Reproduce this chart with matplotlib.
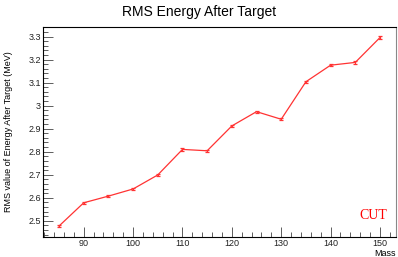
import numpy as np
import matplotlib
matplotlib.use("Agg")
import matplotlib.pyplot as plt
from matplotlib.ticker import MultipleLocator

# data
mass = [85, 90, 95, 100, 105, 110, 115, 120, 125, 130, 135, 140, 145, 150]
rms = [2.477, 2.578, 2.607, 2.638, 2.699, 2.810, 2.804, 2.912, 2.974,
       2.941, 3.104, 3.176, 3.188, 3.296]
rms_err = [0.005] * len(mass)

plt.rcParams['font.family'] = ['Liberation Sans', 'DejaVu Sans']

fig = plt.figure(figsize=(3.98, 2.57), dpi=100)
ax = fig.add_axes([0.108, 0.078, 0.887, 0.817])

ax.errorbar(mass, rms, yerr=rms_err, color='#ff3333', lw=0.9,
            elinewidth=0.9, capsize=1.2, capthick=0.9)

ax.set_xlim(81.75, 153.25)
ax.set_ylim(2.4295, 3.342)
ax.xaxis.set_major_locator(MultipleLocator(10))
ax.xaxis.set_minor_locator(MultipleLocator(2))
ax.yaxis.set_major_locator(MultipleLocator(0.1))
ax.yaxis.set_minor_locator(MultipleLocator(0.02))
ax.yaxis.set_major_formatter(matplotlib.ticker.FuncFormatter(lambda v, p: '%g' % round(v, 2)))

ax.tick_params(which='both', direction='in', top=False, right=False,
               labelsize=6.5, pad=1.5, width=0.6, color='#444444', labelcolor='#222222')
ax.tick_params(which='major', length=7)
ax.tick_params(which='minor', length=3.5)
for s in ax.spines.values():
    s.set_linewidth(0.8)
ax.spines['right'].set_color('#888888')

fig.text(0.5, 0.955, 'RMS Energy After Target', ha='center', va='center', fontsize=10)
ax.set_ylabel('RMS value of Energy After Target (MeV)', fontsize=6.5)
ax.yaxis.set_label_coords(-0.085, 0.5)
ax.text(1.0, -0.055, 'Mass', transform=ax.transAxes, ha='right', va='top', fontsize=6.5)
ax.text(0.975, 0.1, 'CUT', transform=ax.transAxes, ha='right', va='center',
        color='red', fontsize=10, family='Liberation Serif')

fig.savefig('out.png', dpi=100)
